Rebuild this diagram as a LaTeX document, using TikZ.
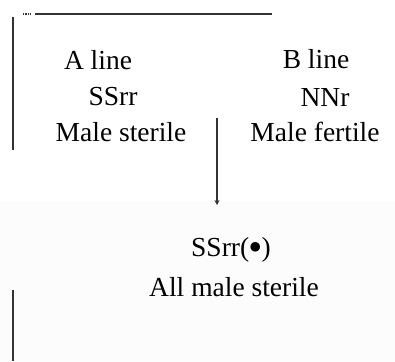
\documentclass[tikz,border=0pt]{standalone}
\usepackage{fontspec}
\setmainfont{Liberation Serif}
\usetikzlibrary{arrows.meta}
\tikzset{lbl/.style={inner sep=0pt,font=\fontsize{27.5}{33}\selectfont},
  rule/.style={line width=1.4pt,black!80}}

\begin{document}
\begin{tikzpicture}[x=1pt,y=-1pt]
    \useasboundingbox (0,0) rectangle (395,361);
    \fill[black!1.2] (0,201) rectangle (395,361); % faint lower band
    \draw[rule] (35,14) -- (272,14); % top line
    \draw[rule,densely dotted] (23,14) -- (31,14);
    \draw[rule] (13,17) -- (13,150); % left lines
    \draw[rule] (13,290) -- (13,361);
    \node[lbl] (aline) at (98,60) {A line};
    \node[lbl] (agen) at (113,97) {SSrr};
    \node[lbl] (aster) at (121,132) {Male sterile};
    \node[lbl] (bline) at (316,59) {B line};
    \node[lbl] (bgen) at (325,97) {NNr};
    \node[lbl] (bfert) at (315,132) {Male fertile};
    \node[lbl] (cgen) at (231,250) {SSrr(\raisebox{0.1em}{$\bullet$})};
    \node[lbl] (cster) at (234,287) {All male sterile};
    \coordinate (cross) at (217,118);
    \coordinate (cend) at (217,205);
    \draw[rule,-{Stealth[length=5pt,width=5pt]}] (cross) -- (cend); % cross arrow
\end{tikzpicture}
\end{document}
